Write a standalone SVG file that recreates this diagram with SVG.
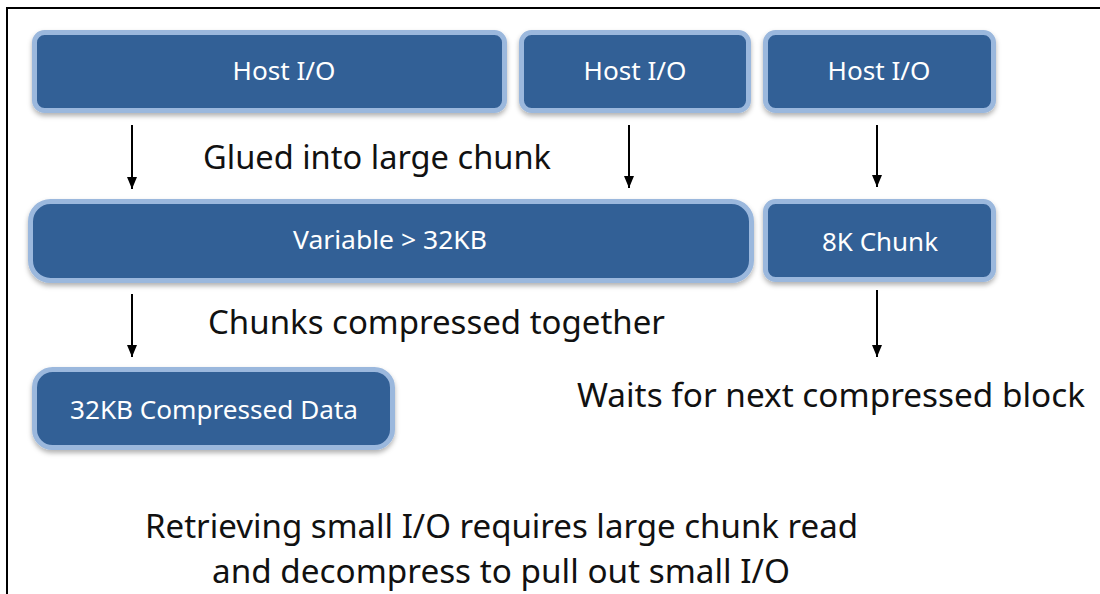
<svg xmlns="http://www.w3.org/2000/svg" width="1100" height="594" viewBox="0 0 1100 594">
  <defs>
    <filter id="sh" x="-10%" y="-20%" width="120%" height="150%">
      <feDropShadow dx="0" dy="3" stdDeviation="2.5" flood-color="#000" flood-opacity="0.3"/>
    </filter>
    <marker id="ah" viewBox="0 0 12 10" refX="12" refY="5" markerWidth="12" markerHeight="10" markerUnits="userSpaceOnUse" orient="auto">
      <path d="M0,0 L12,5 L0,10 Z" fill="#000"/>
    </marker>
    <style>
      .box { fill: #336096; stroke: #9bb8dd; stroke-width: 5; filter: url(#sh); }
      .bt { fill: #ffffff; font-family: "Noto Sans", "Open Sans", sans-serif; font-size: 25px; text-anchor: middle; }
      .lb { fill: #111111; font-family: "Noto Sans", "Open Sans", sans-serif; font-size: 32px; }
      .cn { stroke: #000; stroke-width: 2; fill: none; marker-end: url(#ah); }
    </style>
  </defs>
  <rect width="1100" height="594" fill="#ffffff"/>
  <path d="M7,594 L7,8 L1100,8" fill="none" stroke="#000" stroke-width="2"/>

  <g id="host1">
    <rect class="box" x="34.5" y="32.5" width="470" height="78" rx="10"/>
    <text class="bt" x="284" y="80" textLength="103" lengthAdjust="spacingAndGlyphs">Host I/O</text>
  </g>
  <g id="host2">
    <rect class="box" x="521.5" y="32.5" width="227" height="78" rx="10"/>
    <text class="bt" x="635" y="80" textLength="103" lengthAdjust="spacingAndGlyphs">Host I/O</text>
  </g>
  <g id="host3">
    <rect class="box" x="765.5" y="32.5" width="228" height="78" rx="10"/>
    <text class="bt" x="879" y="80" textLength="103" lengthAdjust="spacingAndGlyphs">Host I/O</text>
  </g>
  <g id="variable">
    <rect class="box" x="30.5" y="201.5" width="721" height="79" rx="20"/>
    <text class="bt" x="390" y="249" textLength="194" lengthAdjust="spacingAndGlyphs">Variable &gt; 32KB</text>
  </g>
  <g id="chunk8k">
    <rect class="box" x="765.5" y="201.5" width="228" height="78" rx="10"/>
    <text class="bt" x="880" y="251" textLength="116" lengthAdjust="spacingAndGlyphs">8K Chunk</text>
  </g>
  <g id="compressed">
    <rect class="box" x="34.5" y="369.5" width="358" height="78" rx="18"/>
    <text class="bt" x="214" y="419" textLength="288" lengthAdjust="spacingAndGlyphs">32KB Compressed Data</text>
  </g>

  <g id="connectors">
    <line class="cn" x1="132" y1="125" x2="132" y2="189"/>
    <line class="cn" x1="629" y1="125" x2="629" y2="188"/>
    <line class="cn" x1="877" y1="125" x2="877" y2="187"/>
    <line class="cn" x1="132" y1="294" x2="132" y2="357"/>
    <line class="cn" x1="877" y1="290" x2="877" y2="357"/>
  </g>

  <g id="labels">
    <text class="lb" x="203" y="169" textLength="348" lengthAdjust="spacingAndGlyphs">Glued into large chunk</text>
    <text class="lb" x="208" y="334" textLength="457" lengthAdjust="spacingAndGlyphs">Chunks compressed together</text>
    <text class="lb" x="577" y="407" textLength="508" lengthAdjust="spacingAndGlyphs">Waits for next compressed block</text>
    <text class="lb" x="145" y="538" textLength="713" lengthAdjust="spacingAndGlyphs">Retrieving small I/O requires large chunk read</text>
    <text class="lb" x="212" y="583" textLength="578" lengthAdjust="spacingAndGlyphs">and decompress to pull out small I/O</text>
  </g>
</svg>
